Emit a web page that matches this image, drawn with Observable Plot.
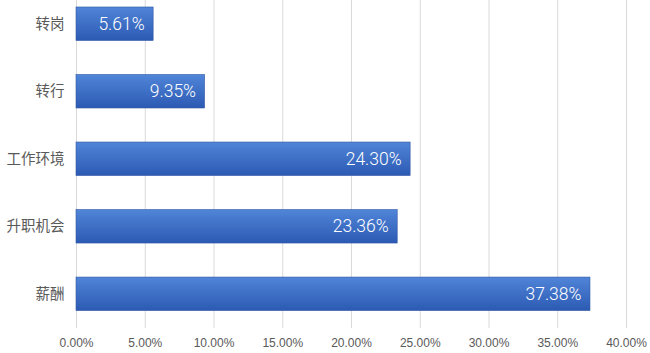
<!DOCTYPE html>
<html>
<head>
<meta charset="utf-8">
<script src="https://cdn.jsdelivr.net/npm/d3@7"></script>
<script src="https://cdn.jsdelivr.net/npm/@observablehq/plot@0.6"></script>
<style>
  html, body { margin: 0; padding: 0; background: #fff; }
  #chart { width: 650px; height: 353px; }
</style>
</head>
<body>
<div id="chart"></div>
<script>
const categories = ["转岗", "转行", "工作环境", "升职机会", "薪酬"];
const values = [0.0561, 0.0935, 0.2430, 0.2336, 0.3738];
const xTicks = [0, 0.05, 0.10, 0.15, 0.20, 0.25, 0.30, 0.35, 0.40];

const data = categories.map((c, i) => ({category: c, value: values[i]}));

const gradientDefs = () => {
  const ns = "http://www.w3.org/2000/svg";
  const defs = document.createElementNS(ns, "defs");
  const lg = document.createElementNS(ns, "linearGradient");
  lg.setAttribute("id", "barGrad");
  lg.setAttribute("x1", "0"); lg.setAttribute("y1", "0");
  lg.setAttribute("x2", "0"); lg.setAttribute("y2", "1");
  [["0%", "#5085d8"], ["100%", "#2c5ab3"]].forEach(([o, c]) => {
    const s = document.createElementNS(ns, "stop");
    s.setAttribute("offset", o);
    s.setAttribute("stop-color", c);
    lg.appendChild(s);
  });
  defs.appendChild(lg);
  return defs;
};

const chart = Plot.plot({
  width: 650,
  height: 353,
  marginLeft: 76,
  marginRight: 24,
  marginTop: 0,
  marginBottom: 25,
  style: {fontFamily: "'Liberation Sans', 'Noto Sans CJK SC', sans-serif", background: "#fff"},
  x: {domain: [0, 0.40], ticks: xTicks, tickFormat: d3.format(".2%")},
  y: {domain: categories, paddingInner: 0.504, paddingOuter: 0.181, align: 0.286, round: false},
  marks: [
    gradientDefs,
    Plot.gridX(xTicks, {stroke: "#d9d9d9", strokeOpacity: 1, strokeWidth: 1}),
    Plot.axisX({ticks: xTicks, tickFormat: d3.format(".2%"), tickSize: 0, tickPadding: 10, fontSize: 12, fill: "#595959", label: null}),
    Plot.axisY({tickSize: 0, tickPadding: 12, fontSize: 14.5, fill: "#595959", label: null, fontFamily: "'Noto Sans CJK SC', sans-serif"}),
    Plot.barX(data, {x: "value", y: "category", fill: "url(#barGrad)", stroke: "#2f57a6", strokeWidth: 0.6}),
    Plot.text(data, {x: "value", y: "category", text: d => d3.format(".2%")(d.value), textAnchor: "end", dx: -9, fill: "#ffffff", fontSize: 17.5, fontWeight: 300, fontFamily: "Roboto, 'Liberation Sans', sans-serif"})
  ]
});
document.getElementById("chart").appendChild(chart);
</script>
</body>
</html>
